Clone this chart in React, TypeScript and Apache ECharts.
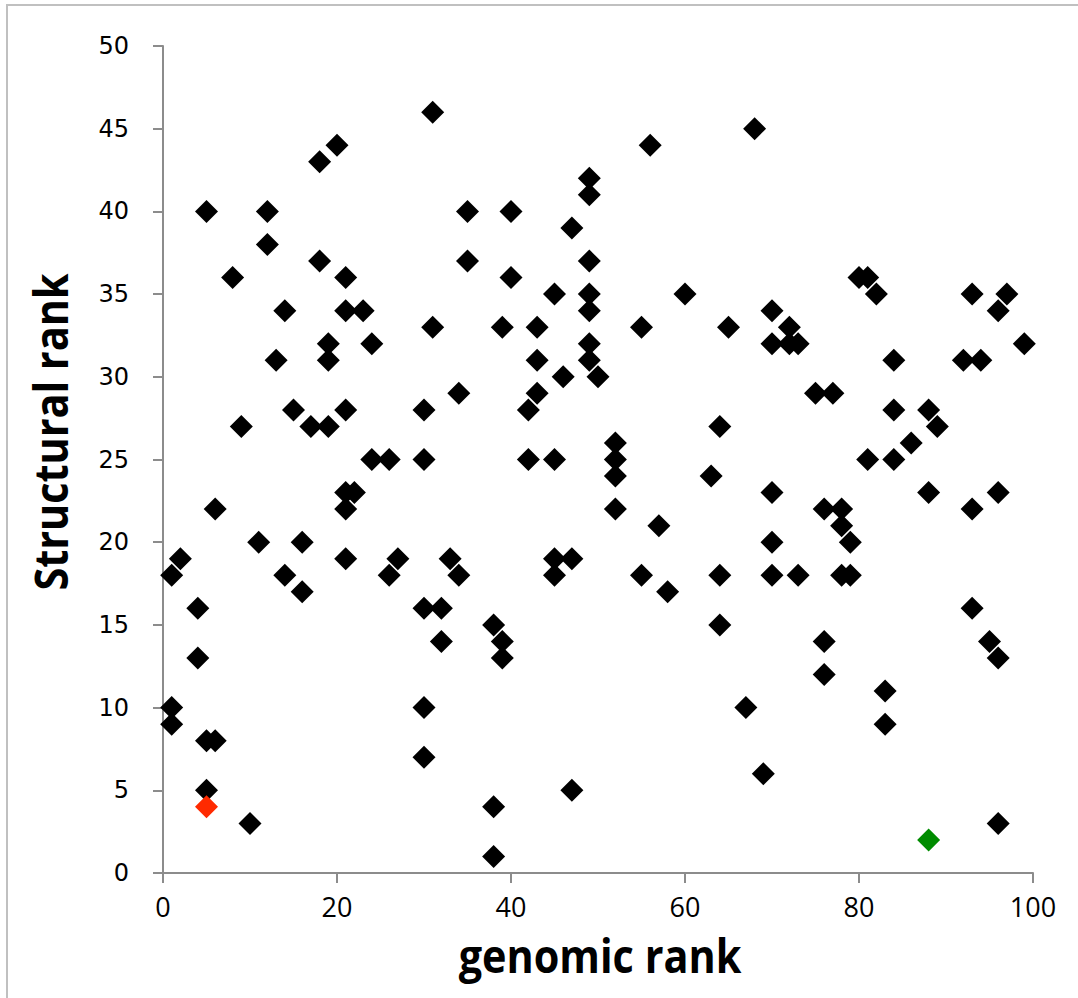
import React, { useEffect, useRef } from "react";
import * as echarts from "echarts";

const xTitle = "genomic rank";
const yTitle = "Structural rank";

// [genomic rank, structural rank]
const blackPoints: number[][] = [
  [31, 46], [68, 45], [20, 44], [56, 44], [18, 43], [49, 42], [49, 41], [5, 40], [12, 40], [35, 40],
  [40, 40], [47, 39], [12, 38], [18, 37], [35, 37], [49, 37], [8, 36], [21, 36], [40, 36], [80, 36],
  [81, 36], [45, 35], [49, 35], [60, 35], [82, 35], [93, 35], [97, 35], [14, 34], [21, 34], [23, 34],
  [49, 34], [70, 34], [96, 34], [31, 33], [39, 33], [43, 33], [55, 33], [65, 33], [72, 33], [19, 32],
  [24, 32], [49, 32], [70, 32], [72, 32], [73, 32], [99, 32], [13, 31], [19, 31], [43, 31], [49, 31],
  [84, 31], [92, 31], [94, 31], [46, 30], [50, 30], [34, 29], [43, 29], [75, 29], [77, 29], [15, 28],
  [21, 28], [30, 28], [42, 28], [84, 28], [88, 28], [9, 27], [17, 27], [19, 27], [64, 27], [89, 27],
  [52, 26], [86, 26], [24, 25], [26, 25], [30, 25], [42, 25], [45, 25], [52, 25], [81, 25], [84, 25],
  [52, 24], [63, 24], [21, 23], [22, 23], [70, 23], [88, 23], [96, 23], [6, 22], [21, 22], [52, 22],
  [76, 22], [78, 22], [93, 22], [57, 21], [78, 21], [11, 20], [16, 20], [70, 20], [79, 20], [2, 19],
  [21, 19], [27, 19], [33, 19], [45, 19], [47, 19], [1, 18], [14, 18], [26, 18], [34, 18], [45, 18],
  [55, 18], [64, 18], [70, 18], [73, 18], [78, 18], [79, 18], [16, 17], [58, 17], [4, 16], [30, 16],
  [32, 16], [93, 16], [38, 15], [64, 15], [32, 14], [39, 14], [76, 14], [95, 14], [4, 13], [39, 13],
  [96, 13], [76, 12], [83, 11], [1, 10], [30, 10], [67, 10], [1, 9], [83, 9], [5, 8], [6, 8],
  [30, 7], [69, 6], [5, 5], [47, 5], [38, 4], [10, 3], [96, 3], [38, 1],
];
const redPoints: number[][] = [[5, 4]];
const greenPoints: number[][] = [[88, 2]];

const xMin = 0, xMax = 100, xStep = 20;
const yMin = 0, yMax = 50, yStep = 5;

export default function App() {
  const ref = useRef<HTMLDivElement>(null);
  useEffect(() => {
    if (!ref.current) return;
    const chart = echarts.init(ref.current, null, { renderer: "svg" });
    const axisColor = "#8c8c8c";
    const titleFont = "bold 46px 'Open Sans', 'Noto Sans', sans-serif";
    const mk = (data: number[][], color: string) => ({
      type: "scatter",
      data,
      symbol: "diamond",
      symbolSize: 23,
      itemStyle: { color, opacity: 1 },
      z: color === "#000000" ? 2 : 3,
    });
    chart.setOption({
      animation: false,
      backgroundColor: "#ffffff",
      grid: { left: 163, top: 46, right: 45, bottom: 125, containLabel: false },
      graphic: [
        {
          type: "rect",
          shape: { x: 7, y: 5, width: 1090, height: 1010 },
          style: { fill: "none", stroke: "#c0c0c0", lineWidth: 2 },
          silent: true,
        },
        {
          type: "text",
          x: 50,
          y: 432,
          rotation: Math.PI / 2,
          scaleX: 0.9,
          style: {
            text: yTitle,
            font: titleFont,
            fill: "#000",
            align: "center",
            verticalAlign: "middle",
          },
        },
        {
          type: "text",
          x: 600,
          y: 955,
          scaleX: 0.9,
          style: {
            text: xTitle,
            font: titleFont,
            fill: "#000",
            align: "center",
            verticalAlign: "middle",
          },
        },
      ],
      xAxis: {
        type: "value",
        min: xMin,
        max: xMax,
        interval: xStep,
        splitLine: { show: false },
        axisLine: { show: true, lineStyle: { color: axisColor, width: 2 } },
        axisTick: { show: true, inside: false, length: 10, lineStyle: { color: axisColor, width: 2 } },
        axisLabel: {
          margin: 20,
          fontSize: 27,
          color: "#000",
          fontFamily: "'Open Sans', sans-serif",
        },
      },
      yAxis: {
        type: "value",
        min: yMin,
        max: yMax,
        interval: yStep,
        splitLine: { show: false },
        axisLine: { show: true, lineStyle: { color: axisColor, width: 2 } },
        axisTick: { show: true, inside: false, length: 10, lineStyle: { color: axisColor, width: 2 } },
        axisLabel: {
          margin: 34,
          fontSize: 24,
          color: "#000",
          fontFamily: "'DejaVu Sans', Verdana, sans-serif",
        },
      },
      series: [
        mk(blackPoints, "#000000"),
        mk(redPoints, "#ff2a00"),
        mk(greenPoints, "#008c00"),
      ],
    });
    return () => chart.dispose();
  }, []);
  return (
    <div
      ref={ref}
      style={{ position: "fixed", left: 0, top: 0, width: 1078, height: 998, background: "#fff" }}
    />
  );
}
